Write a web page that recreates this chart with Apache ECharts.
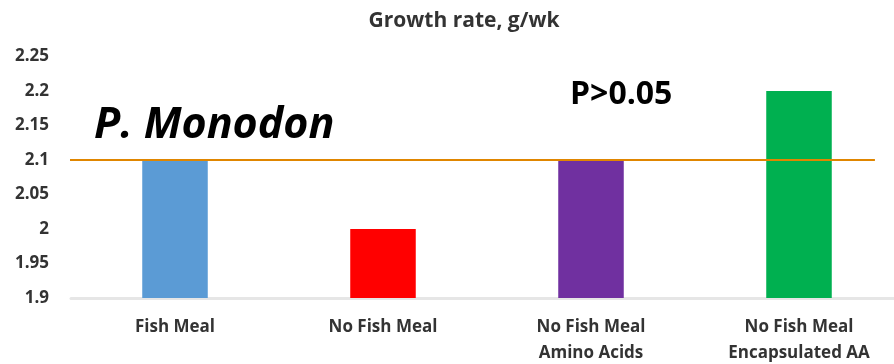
<!DOCTYPE html>
<html>
<head>
<meta charset="utf-8">
<script src="https://cdn.jsdelivr.net/npm/echarts@6/dist/echarts.min.js"></script>
<style>
html,body{margin:0;padding:0;background:#ffffff;}
#chart{width:894px;height:364px;}
</style>
</head>
<body>
<div id="chart"></div>
<script>
var categories = ['Fish Meal', 'No Fish Meal', 'No Fish Meal\nAmino Acids', 'No Fish Meal\nEncapsulated AA'];
var growthValues = [2.1, 2.0, 2.1, 2.2];
var barColors = ['#5b9bd5', '#ff0000', '#7030a0', '#00b050'];
var referenceLine = [[-0.03, 2.1], [3.865, 2.1]];
var yTicks = {min: 1.9, max: 2.25, interval: 0.05};

var chart = echarts.init(document.getElementById('chart'));
chart.setOption({
  backgroundColor: '#ffffff',
  animation: false,
  title: {
    text: 'Growth rate, g/wk',
    left: 459, top: 6, textAlign: 'center',
    textStyle: {fontFamily: 'Open Sans', fontSize: 21, fontWeight: 'bold', color: '#333333'}
  },
  grid: {left: 71, width: 832, top: 56.5, bottom: 66, outerBoundsMode: 'none', containLabel: false},
  xAxis: [{
    type: 'category',
    data: categories,
    axisLine: {show: true, lineStyle: {color: '#e6e6e6', width: 3}},
    axisTick: {show: false},
    axisLabel: {
      interval: 0, margin: 16, lineHeight: 26,
      fontFamily: 'Open Sans', fontSize: 17, fontWeight: 'bold', color: '#333333'
    }
  }, {
    type: 'value', min: 0, max: 4, show: false
  }],
  yAxis: {
    type: 'value',
    min: yTicks.min, max: yTicks.max, interval: yTicks.interval,
    axisLine: {show: false},
    axisTick: {show: false},
    splitLine: {show: false},
    axisLabel: {
      margin: 22,
      fontFamily: 'Open Sans', fontSize: 17, fontWeight: 'bold', color: '#333333',
      formatter: function (v) { return String(parseFloat(v.toFixed(2))); }
    }
  },
  series: [{
    type: 'bar',
    xAxisIndex: 0,
    barWidth: '31.5%',
    data: growthValues.map(function (v, i) {
      return {value: v, itemStyle: {color: barColors[i]}};
    })
  }, {
    type: 'line',
    xAxisIndex: 1,
    data: referenceLine,
    symbol: 'none',
    clip: false,
    lineStyle: {color: '#e08600', width: 2}
  }],
  graphic: [{
    type: 'text', left: 94, top: 104,
    style: {text: 'P. Monodon', font: 'italic bold 43px "Open Sans"', fill: '#000000'}
  }, {
    type: 'text', left: 570, top: 79,
    style: {text: 'P>0.05', font: 'bold 32px "Open Sans"', fill: '#000000'}
  }]
});
</script>
</body>
</html>
